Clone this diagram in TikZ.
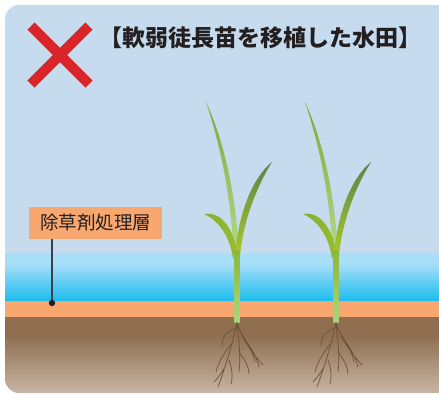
\documentclass[tikz,border=0pt]{standalone}
\usepackage{fontspec}
\newfontfamily\jp{Noto Sans CJK JP}
\definecolor{sky}{HTML}{C6DBEE}
\definecolor{waterlight}{HTML}{A7DEF8}
\definecolor{waterdeep}{HTML}{19BCEE}
\definecolor{layer}{HTML}{F8A86F}
\definecolor{soiltop}{HTML}{8F6F50}
\definecolor{soilbottom}{HTML}{C9B7A6}
\definecolor{crossred}{HTML}{D9252A}
\definecolor{ink}{HTML}{231F20}
\definecolor{leader}{HTML}{3A4048}
\definecolor{root}{HTML}{6E5238}
\definecolor{tallA}{HTML}{84A53A}
\definecolor{tallB}{HTML}{B2D98B}
\definecolor{leftA}{HTML}{86AE36}
\definecolor{leftB}{HTML}{97BE2C}
\definecolor{rightA}{HTML}{5B8449}
\definecolor{rightB}{HTML}{ABC92B}
\definecolor{stemA}{HTML}{8DB63A}
\definecolor{stemB}{HTML}{A9D67E}
\tikzset{
  titletext/.style={font=\jp\bfseries\fontsize{23}{23}\selectfont, text=ink, inner sep=0pt},
  layerlabel/.style={fill=layer, text=ink, font=\jp\fontsize{18.5}{18.5}\selectfont,
    minimum width=133pt, minimum height=32pt, inner sep=0pt},
  rootline/.style={draw=root, line width=0.7pt, line cap=round},
  seedling/.pic={
    % tall leaf
    \shade[top color=tallA, bottom color=tallB]
      (-31,102) .. controls (-15,150) and (-6,200) .. (-3.5,252)
      -- (2,252) .. controls (-1,200) and (-11,145) .. (-31,102) -- cycle;
    % left leaf
    \shade[left color=leftA, right color=leftB]
      (-33,214) .. controls (-15,211) and (-2,230) .. (1,258)
      -- (-4,258) .. controls (-7,238) and (-17,221) .. (-33,214) -- cycle;
    % right leaf
    \shade[top color=rightA, bottom color=rightB]
      (35,162) .. controls (15,178) and (1,215) .. (-2,256)
      -- (3,256) .. controls (6,222) and (19,188) .. (35,162) -- cycle;
    % stem
    \shade[top color=stemA, bottom color=stemB]
      (-2.3,250) rectangle (2.3,322);
    % roots
    \path[rootline]
      (0,322) .. controls (-4,342) and (-10,362) .. (-19,387)
      (-2,328) .. controls (-10,332) and (-15,336) .. (-15,346)
      (0,322) .. controls (4,337) and (14,352) .. (26,365)
      (1,327) .. controls (8,342) and (18,350) .. (22,367)
      (0,325) .. controls (2,342) and (4,357) .. (2,372)
      (-4,342) .. controls (-12,352) and (-18,360) .. (-21,372)
      (-8,360) .. controls (-5,367) and (-4,377) .. (-6,384)
      (2,352) .. controls (8,360) and (12,367) .. (12,374)
      (-12,367) .. controls (-15,372) and (-18,377) .. (-23,382)
      (6,338) .. controls (12,346) and (16,352) .. (18,362);
  }
}
\begin{document}
\begin{tikzpicture}[x=1pt,y=-1pt]
\useasboundingbox (0,0) rectangle (439,394);
\begin{scope}
  \clip[rounded corners=14pt] (5,5) rectangle (452,393);
  % sky
  \fill[sky] (0,0) rectangle (452,253);
  % water
  \fill[waterlight] (0,253) rectangle (452,264);
  \shade[top color=waterlight, bottom color=waterdeep] (0,264) rectangle (452,301.5);
  % treated layer
  \fill[layer] (0,301) rectangle (452,317);
  % soil
  \fill[soiltop] (0,317) rectangle (452,336);
  \shade[top color=soiltop, bottom color=soilbottom] (0,336) rectangle (452,394);
  % seedlings
  \pic at (237,0) {seedling};
  \pic at (336,0) {seedling};
\end{scope}
% red cross
\draw[crossred, line width=10pt] (31,26) -- (89,84) (89,26) -- (31,84);
% title
\node[titletext] (ttl) at (260,38) {【軟弱徒長苗を移植した水田】};
% layer label with leader
\node[layerlabel] (lbl) at (95.5,223) {除草剤処理層};
\coordinate (dot) at (52,303);
\draw[leader, line width=1.8pt] (dot |- lbl.south) -- (dot);
\fill[ink] (dot) circle (3.2pt);
\end{tikzpicture}
\end{document}
